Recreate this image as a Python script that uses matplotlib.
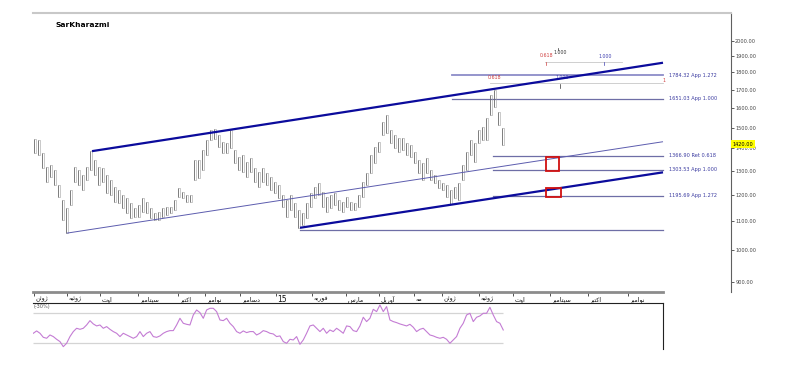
import numpy as np
import matplotlib.pyplot as plt
from matplotlib.patches import Rectangle
from matplotlib.ticker import FixedLocator, FuncFormatter, NullLocator
from matplotlib.transforms import blended_transform_factory

#----Data----#
# x axis is in chart units (1 unit ~ 1 pixel of the original plot width)
bar_start, bar_step = 2, 4
highs = [1444, 1439, 1379, 1316, 1325, 1303, 1240, 1180, 1149, 1220,
         1316, 1303, 1282, 1316, 1388, 1347, 1316, 1312, 1282, 1261,
         1232, 1220, 1199, 1187, 1168, 1149, 1160, 1187, 1172, 1149,
         1130, 1134, 1149, 1153, 1153, 1180, 1228, 1211, 1199, 1199,
         1347, 1347, 1392, 1439, 1488, 1493, 1463, 1430, 1425, 1488,
         1392, 1361, 1370, 1338, 1356, 1312, 1295, 1312, 1291, 1274,
         1253, 1240, 1199, 1180, 1199, 1168, 1141, 1130, 1168, 1207,
         1232, 1248, 1211, 1191, 1199, 1207, 1180, 1172, 1191, 1172,
         1168, 1199, 1253, 1291, 1370, 1406, 1430, 1528, 1564, 1488,
         1463, 1449, 1449, 1425, 1416, 1383, 1347, 1334, 1356, 1303,
         1282, 1261, 1248, 1240, 1220, 1232, 1248, 1325, 1383, 1439,
         1425, 1488, 1503, 1548, 1671, 1699, 1580, 1498]
lows = [1379, 1370, 1312, 1253, 1274, 1240, 1191, 1104, 1058, 1160,
        1253, 1240, 1220, 1261, 1303, 1282, 1240, 1253, 1207, 1199,
        1172, 1168, 1149, 1130, 1112, 1116, 1116, 1134, 1130, 1112,
        1104, 1104, 1116, 1123, 1130, 1141, 1191, 1187, 1172, 1172,
        1261, 1270, 1303, 1370, 1439, 1444, 1406, 1379, 1379, 1402,
        1334, 1303, 1295, 1274, 1295, 1253, 1232, 1253, 1240, 1220,
        1207, 1187, 1153, 1116, 1141, 1116, 1075, 1086, 1112, 1153,
        1187, 1199, 1153, 1134, 1149, 1160, 1141, 1134, 1153, 1141,
        1141, 1153, 1191, 1240, 1291, 1334, 1383, 1463, 1473, 1425,
        1402, 1383, 1392, 1370, 1361, 1334, 1291, 1261, 1291, 1261,
        1248, 1228, 1220, 1191, 1164, 1187, 1180, 1261, 1303, 1370,
        1338, 1425, 1439, 1439, 1564, 1606, 1513, 1416]
last_price = 1420.00

osc_start, osc_step = 0.3, 3.333
osc = [42.8, 46.0, 42.8, 37.3, 36.0, 40.5, 38.3, 34.6, 31.5, 24.6,
       29.2, 38.3, 45.1, 49.6, 48.2, 49.6, 54.1, 60.0, 55.5, 52.8,
       54.1, 49.6, 51.9, 48.2, 45.1, 42.8, 38.3, 42.8, 40.5, 38.3,
       36.0, 38.3, 45.1, 38.3, 42.8, 45.1, 38.3, 37.3, 39.2, 42.8,
       45.1, 46.4, 46.4, 54.1, 63.2, 56.4, 55.0, 54.1, 67.7, 74.5,
       70.9, 63.2, 74.5, 76.8, 76.8, 72.3, 60.9, 60.0, 63.2, 56.4,
       51.9, 45.1, 42.8, 46.0, 43.7, 45.1, 45.1, 40.5, 42.8, 46.4,
       45.1, 42.8, 41.9, 38.3, 39.2, 31.5, 29.2, 34.6, 33.7, 38.3,
       27.8, 33.7, 42.8, 52.8, 54.1, 49.6, 45.1, 49.6, 42.8, 47.3,
       45.1, 49.6, 46.4, 42.8, 52.8, 51.9, 46.4, 45.1, 52.8, 64.6,
       58.7, 63.2, 75.4, 72.3, 81.3, 72.3, 79.1, 60.9, 58.7, 57.3,
       55.5, 54.1, 52.8, 55.0, 51.0, 45.1, 48.2, 49.6, 45.1, 40.5,
       39.2, 37.3, 36.0, 37.3, 34.6, 29.2, 33.7, 38.3, 49.6, 56.4,
       67.7, 70.0, 58.7, 64.6, 66.4, 70.0, 70.0, 78.2, 67.7, 58.7,
       56.4, 47.3]
osc_levels = [70, 30]

month_pos = [1, 33.7, 67, 105, 145, 172, 207, 243, 279, 312.7, 346, 381,
             409, 446, 480, 517, 555, 595]
month_names = ['ژوئن', 'ژوئیه', 'اوت', 'سپتامبر', 'اکتبر', 'نوامبر', 'دسامبر', '15',
               'فوریه', 'مارس', 'آوریل', 'مه', 'ژوئن', 'ژوئیه', 'اوت', 'سپتامبر',
               'اکتبر', 'نوامبر']

price_ticks = [900, 1000, 1100, 1200, 1300, 1400, 1500, 1600, 1700, 1800, 1900, 2000]

# trend lines: (x0, price0, x1, price1)
channel_upper = (59, 1387, 630, 1859)
channel_lower = (267, 1076, 630, 1293)
channel_mid = (33.7, 1057, 630, 1431)

# fibonacci levels
levels = [1784.32, 1651.03, 1366.90, 1303.53, 1195.69, 1068.0]
level_start = [419, 419, 460, 460, 460, 267]
level_names = ['App 1.272', 'App 1.000', 'Ret 0.618', 'App 1.000', 'App 1.272', '']
level_end = 630

# red target boxes: (x0, x1, price_low, price_high)
targets = [(513, 526, 1299, 1361), (513, 528, 1191, 1228)]

#----Persian labels: join letters into presentation forms----#
FORMS = {
    'ا': ('\uFE8D', '\uFE8E', None, None), 'آ': ('\uFE81', '\uFE82', None, None),
    'ب': ('\uFE8F', '\uFE90', '\uFE91', '\uFE92'), 'پ': ('\uFB56', '\uFB57', '\uFB58', '\uFB59'),
    'ت': ('\uFE95', '\uFE96', '\uFE97', '\uFE98'), 'د': ('\uFEA9', '\uFEAA', None, None),
    'ر': ('\uFEAD', '\uFEAE', None, None), 'ژ': ('\uFB8A', '\uFB8B', None, None),
    'س': ('\uFEB1', '\uFEB2', '\uFEB3', '\uFEB4'), 'ف': ('\uFED1', '\uFED2', '\uFED3', '\uFED4'),
    'ک': ('\uFB8E', '\uFB8F', '\uFB90', '\uFB91'), 'ل': ('\uFEDD', '\uFEDE', '\uFEDF', '\uFEE0'),
    'م': ('\uFEE1', '\uFEE2', '\uFEE3', '\uFEE4'), 'ن': ('\uFEE5', '\uFEE6', '\uFEE7', '\uFEE8'),
    'ه': ('\uFEE9', '\uFEEA', '\uFEEB', '\uFEEC'), 'و': ('\uFEED', '\uFEEE', None, None),
    'ی': ('\uFBFC', '\uFBFD', '\uFBFE', '\uFBFF'), 'ئ': ('\uFE89', '\uFE8A', '\uFE8B', '\uFE8C'),
}

def shape(word):
    if not any(c in FORMS for c in word):
        return word
    out = []
    for i, c in enumerate(word):
        prev_joins = i > 0 and FORMS[word[i - 1]][2] is not None
        next_joins = i < len(word) - 1 and FORMS[c][2] is not None
        iso, fin, ini, med = FORMS[c]
        if prev_joins and next_joins:
            out.append(med)
        elif prev_joins:
            out.append(fin)
        elif next_joins:
            out.append(ini)
        else:
            out.append(iso)
    return ''.join(reversed(out))

#----Figure----#
W, H = 811, 386
fig = plt.figure(figsize=(W / 100, H / 100), dpi=100)
plt.rcParams['font.family'] = ['DejaVu Sans']

def box(x0, y0, x1, y1):
    return [x0 / W, 1 - y1 / H, (x1 - x0) / W, (y1 - y0) / H]

ax = fig.add_axes(box(33, 13, 731, 292))
ax_dates = fig.add_axes(box(33, 292, 663, 303))
ax_osc = fig.add_axes(box(33, 303, 663, 349))

fig.text(55 / W, 1 - 25 / H, 'SarKharazmi', fontsize=5.4, fontweight='bold',
         va='center', ha='left')

# price bars (hollow grey body with a dark range line)
x = bar_start + bar_step * np.arange(len(highs))
hi = np.array(highs)
lo = np.array(lows)
ax.bar(x, hi - lo, bottom=lo, width=1.8, facecolor='none', edgecolor='#a0a0a0', lw=0.4, zorder=3)
ax.vlines(x - 0.6, lo, hi, color='#555555', lw=0.45, zorder=4)

# channel lines
for (x0, p0, x1, p1), c, w in [(channel_upper, '#0b0b9c', 1.6),
                               (channel_lower, '#0b0b9c', 1.6),
                               (channel_mid, '#5c5cae', 0.7)]:
    ax.plot([x0, x1], [p0, p1], color=c, lw=w, zorder=5, solid_capstyle='butt')

# fib levels
for lv, xs, name in zip(levels, level_start, level_names):
    wdt = 1.3 if lv > 1700 else 0.9
    col = '#8c8cc8' if lv > 1700 else '#6e6ea6'
    ax.plot([xs, level_end], [lv, lv], color=col, lw=wdt, zorder=2)
    if name:
        ax.text(level_end + 6, lv, f'{lv:.2f} {name}', fontsize=3.6, color='#3a3aa0',
                va='center', ha='left')

# projection box near the top
ax.plot([457, level_end], [1738, 1738], color='#c8c8c8', lw=0.6, zorder=2)
ax.plot([512, 589], [1864, 1864], color='#c8c8c8', lw=0.6, zorder=2)
ax.text(455, 1770, '0.618', fontsize=3.4, color='#d04040', va='center')
ax.text(522, 1770, '1.000', fontsize=3.4, color='#4040b0', va='center')
ax.text(629, 1750, '1', fontsize=3.4, color='#d04040', va='center')
ax.text(507, 1904, '0.618', fontsize=3.4, color='#d04040', va='center')
ax.text(520, 1923, '1.000', fontsize=3.4, color='#333333', va='center')
ax.text(565, 1898, '1.000', fontsize=3.4, color='#4040b0', va='center')
ax.plot([525, 525], [1955, 1940], color='#333333', lw=0.5)
ax.plot([527, 527], [1732, 1712], color='#333333', lw=0.5)
ax.plot([571, 571], [1864, 1844], color='#4040b0', lw=0.5)
ax.plot([513, 513], [1864, 1844], color='#d04040', lw=0.5)

# red target boxes
for x0, x1, plo, phi in targets:
    ax.add_patch(Rectangle((x0, plo), x1 - x0, phi - plo, fill=False,
                           edgecolor='#d01010', lw=1.3, zorder=6))

ax.set_yscale('log')
ax.set_ylim(869.8, 2192)
ax.set_xlim(0, 698)
ax.set_xticks([])
ax.yaxis.tick_right()
ax.yaxis.set_major_locator(FixedLocator(price_ticks))
ax.yaxis.set_minor_locator(NullLocator())
ax.yaxis.set_major_formatter(FuncFormatter(lambda v, p: f'{v:.2f}'))
ax.tick_params(axis='y', length=2, width=0.6, pad=1, labelsize=3.6, colors='#444444')
for s in ['left', 'bottom']:
    ax.spines[s].set_visible(False)
ax.spines['top'].set_color('#c8c8c8')
ax.spines['top'].set_linewidth(1.5)
ax.spines['right'].set_color('#606060')
ax.spines['right'].set_linewidth(0.8)

tr = blended_transform_factory(ax.transAxes, ax.transData)
ax.text(1.002, last_price, '1420.00', transform=tr, fontsize=3.6, va='center', ha='left',
        bbox=dict(boxstyle='square,pad=0.35', fc='#ffff00', ec='none'), zorder=10)

# date strip
ax_dates.set_xlim(0, 630)
ax_dates.set_ylim(0, 1)
ax_dates.set_xticks(month_pos)
ax_dates.set_yticks([])
ax_dates.tick_params(axis='x', top=True, bottom=False, direction='in', length=3, width=0.6,
                     color='#333333', labeltop=False, labelbottom=False)
for s in ['left', 'right', 'bottom']:
    ax_dates.spines[s].set_visible(False)
ax_dates.spines['top'].set_color('#8c8c8c')
ax_dates.spines['top'].set_linewidth(2)
ax_dates.patch.set_alpha(0)
for pos, name in zip(month_pos, month_names):
    fs = 5.5 if name == '15' else 4.6
    ax_dates.text(pos + 1.5, 0.35, shape(name), fontsize=fs, va='center', ha='left',
                  color='#111111', clip_on=True)

# oscillator panel
xo = osc_start + osc_step * np.arange(len(osc))
ax_osc.hlines(osc_levels, 0, xo[-1], color='#d4d4d4', lw=0.9)
ax_osc.plot(xo, osc, color='#c47cd4', lw=0.8)
ax_osc.text(1, 79.5, '(-30%)', fontsize=3.6, color='#555555', va='center')
ax_osc.set_xlim(0, 630)
ax_osc.set_ylim(21.4, 84)
ax_osc.set_xticks([])
ax_osc.set_yticks([])
for s in ['left', 'bottom']:
    ax_osc.spines[s].set_visible(False)
for s in ['top', 'right']:
    ax_osc.spines[s].set_color('#222222')
    ax_osc.spines[s].set_linewidth(0.8)

fig.savefig('out.png', dpi=100)
